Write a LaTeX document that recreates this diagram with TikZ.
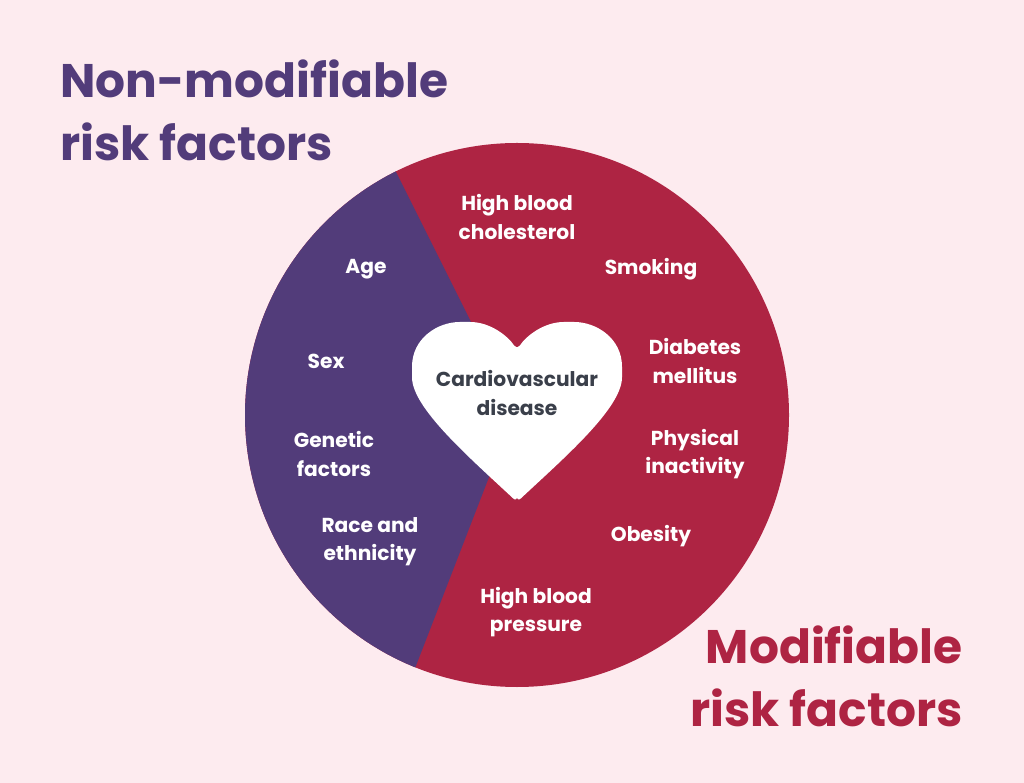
\documentclass[tikz,border=0pt]{standalone}
\usepackage{fontspec}
\setmainfont{Poppins}
\definecolor{bgpink}{HTML}{FDEBEF}
\definecolor{nonmod}{HTML}{523C7A}
\definecolor{modred}{HTML}{AE2443}
\definecolor{darktext}{HTML}{3A3F4A}
\begin{document}
\begin{tikzpicture}[x=0.02cm,y=-0.02cm,
	factor/.style={text=white,font=\bfseries\fontsize{11.5}{16}\selectfont,align=center,inner sep=0pt},
	heading/.style={font=\bfseries\fontsize{26.8}{36}\selectfont,inner sep=0pt}]

	\fill[bgpink] (0,0) rectangle (1024,783);
	\useasboundingbox (0,0) rectangle (1024,783);

	% wheel
	\fill[modred] (517,415) circle[radius=272];
	\begin{scope}
		\clip (370,120) -- (515,410) -- (395,720) -- (0,720) -- (0,120) -- cycle;
		\fill[nonmod] (517,415) circle[radius=272];
	\end{scope}

	% heart
	\fill[white,rounded corners=3pt] (517,502) .. controls (470,458) and (412,408) .. (412,372)
		.. controls (412,338) and (438,322) .. (465,322) .. controls (490,322) and (508,336) .. (517,350)
		.. controls (526,336) and (544,322) .. (569,322) .. controls (596,322) and (622,338) .. (622,372)
		.. controls (622,408) and (564,458) .. (517,502) -- cycle;
	\node[factor,text=darktext] (cvd) at (517,393) {Cardiovascular\\disease};

	% non-modifiable
	\node[factor] (age) at (366,269) {Age};
	\node[factor] (sex) at (326,361) {Sex};
	\node[factor] (genetic) at (334,454) {Genetic\\factors};
	\node[factor] (race) at (370,542) {Race and\\ethnicity};

	% modifiable
	\node[factor] (chol) at (517,217) {High blood\\cholesterol};
	\node[factor] (smoking) at (651,269) {Smoking};
	\node[factor] (diabetes) at (695,361) {Diabetes\\mellitus};
	\node[factor] (inactivity) at (695,454) {Physical\\inactivity};
	\node[factor] (obesity) at (651,536) {Obesity};
	\node[factor] (bp) at (536,612) {High blood\\pressure};

	\node[heading,text=nonmod,align=left,anchor=west] (nonmodtitle) at (60,110) {Non-modifiable\\risk factors};
	\node[heading,text=modred,align=right,anchor=east] (modtitle) at (963,676) {Modifiable\\risk factors};

\end{tikzpicture}
\end{document}
